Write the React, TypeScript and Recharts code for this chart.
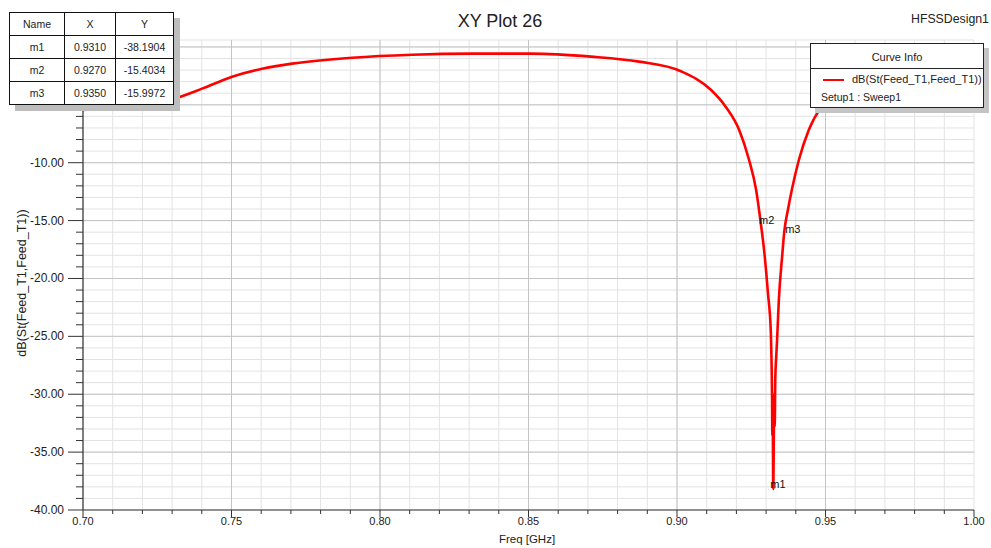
import React from 'react';
import { LineChart, Line, XAxis, YAxis, CartesianGrid, ReferenceLine, ReferenceDot } from 'recharts';

// ---- data ----
const freqGHz = [
  0.700, 0.710, 0.718, 0.725, 0.731, 0.7401, 0.7502, 0.7603, 0.7704, 0.7906, 0.8108, 0.8310, 0.8507, 0.8711,
  0.8872, 0.9013, 0.9114, 0.9165, 0.9209, 0.9242, 0.9266, 0.9283, 0.9293, 0.9306, 0.9316, 0.9318,
  0.9320, 0.9321, 0.9322, 0.9323, 0.9324, 0.9326, 0.9327, 0.9329, 0.9331, 0.9334, 0.9337, 0.9343,
  0.9354, 0.9361, 0.9374, 0.9387, 0.9411, 0.9444, 0.9485, 0.956, 0.966, 0.976, 0.986, 1.000,
];
const s11dB = [
  -5.45, -5.25, -5.08, -4.85, -4.45, -3.6, -2.57, -1.88, -1.44, -0.93, -0.67, -0.58, -0.58, -0.84,
  -1.27, -2.1, -3.7, -5.2, -7.15, -9.7, -12.3, -15.4034, -17.5, -21.2, -24.7, -26.8,
  -30.2, -33.6, -30.5, -34.2, -38.1904, -33.4, -30.0, -32.8, -28.6, -26.8, -25.3, -21.8,
  -18.1, -15.9972, -14.0, -12.3, -9.7, -7.15, -5.2, -3.6, -2.6, -2.0, -1.7, -1.4,
];

const markerNames = ['m1', 'm2', 'm3'];
const markerFreq = [0.9324, 0.9283, 0.9361];
const markerDb = [-38.1904, -15.4034, -15.9972];
const tableX = ['0.9310', '0.9270', '0.9350'];
const tableY = ['-38.1904', '-15.4034', '-15.9972'];

const xTicks = [0.70, 0.71, 0.72, 0.73, 0.74, 0.75, 0.76, 0.77, 0.78, 0.79, 0.80, 0.81, 0.82, 0.83, 0.84, 0.85,
  0.86, 0.87, 0.88, 0.89, 0.90, 0.91, 0.92, 0.93, 0.94, 0.95, 0.96, 0.97, 0.98, 0.99, 1.00];
const xMajor = [0.75, 0.80, 0.85, 0.90, 0.95];
const yTicks = [-40, -39, -38, -37, -36, -35, -34, -33, -32, -31, -30, -29, -28, -27, -26, -25, -24, -23, -22, -21,
  -20, -19, -18, -17, -16, -15, -14, -13, -12, -11, -10, -9, -8, -7, -6, -5, -4, -3, -2, -1, 0];
const yMajor = [-35, -30, -25, -20, -15, -10, -5, 0];
const yLabelled = [-40, -35, -30, -25, -20, -15, -10, -5];

const chartTitle = 'XY Plot 26';
const designName = 'HFSSDesign1';
const yTitle = 'dB(St(Feed_T1,Feed_T1))';
const xTitle = 'Freq [GHz]';
const legendHeader = 'Curve Info';
const legendSeries = 'dB(St(Feed_T1,Feed_T1))';
const legendSetup = 'Setup1 : Sweep1';

const data = freqGHz.map((f, i) => ({ f, db: s11dB[i] }));

const FONT = '"Liberation Sans", Arial, sans-serif';
const RED = '#ff0000';

const isMajorX = (v: number) => Math.abs(v * 20 - Math.round(v * 20)) < 1e-6;
const isMajorY = (v: number) => Math.abs(v / 5 - Math.round(v / 5)) < 1e-6;

const YTick = (props: any) => {
  const { x, y, payload } = props;
  const v = payload.value as number;
  const major = isMajorY(v);
  const labelled = yLabelled.includes(v);
  return (
    <g>
      <line x1={x - (major ? 15 : 7)} x2={x} y1={y} y2={y} stroke="#333" strokeWidth={1} />
      {labelled && (
        <text x={x - 19} y={y} dy={4} textAnchor="end" fontFamily={FONT} fontSize={12} fill="#222">
          {v.toFixed(2)}
        </text>
      )}
    </g>
  );
};

const XTick = (props: any) => {
  const { x, y, payload } = props;
  const v = payload.value as number;
  const major = isMajorX(v);
  return (
    <g>
      <line x1={x} x2={x} y1={y} y2={y + (major ? 7 : 4)} stroke="#333" strokeWidth={1} />
      {major && (
        <text x={x} y={y + 15} textAnchor="middle" fontFamily={FONT} fontSize={11} fill="#222">
          {v.toFixed(2)}
        </text>
      )}
    </g>
  );
};

const labelOffsets: Record<string, [number, number]> = {
  m1: [-3, -1],
  m2: [-2, -1],
  m3: [1, 1],
};

const makeMarkerShape = (name: string) => (props: any) => {
  const { cx, cy } = props;
  const [dx, dy] = labelOffsets[name];
  return (
    <text x={cx + dx} y={cy + dy} fontFamily={FONT} fontSize={11} fill="#111">
      {name}
    </text>
  );
};

const cell: React.CSSProperties = {
  border: '1px solid #111',
  textAlign: 'center',
  padding: 0,
  fontSize: 10.5,
  fontFamily: FONT,
  color: '#222',
  height: 22,
};

export default function App() {
  return (
    <div style={{ position: 'absolute', left: 0, top: 0, width: 991, height: 548, background: '#fff', overflow: 'hidden' }}>
      <LineChart width={991} height={548} data={data} margin={{ top: 40, right: 17, left: 0, bottom: 0 }}>
        <CartesianGrid stroke="#e3e3e3" strokeWidth={1} />
        {xMajor.map((v) => (
          <ReferenceLine key={'vx' + v} x={v} stroke="#c4c4c4" strokeWidth={1} />
        ))}
        {yMajor.map((v) => (
          <ReferenceLine key={'hy' + v} y={v} stroke="#c4c4c4" strokeWidth={1} />
        ))}
        <XAxis
          dataKey="f"
          type="number"
          domain={[0.7, 1.0]}
          ticks={xTicks}
          interval={0}
          allowDataOverflow
          height={38}
          tickSize={0}
          tickMargin={0}
          tickLine={false}
          axisLine={{ stroke: '#333', strokeWidth: 1.2 }}
          tick={<XTick />}
        />
        <YAxis
          type="number"
          domain={[-40, 0.6]}
          ticks={yTicks}
          interval={0}
          allowDataOverflow
          width={83}
          tickSize={0}
          tickMargin={0}
          tickLine={false}
          axisLine={{ stroke: '#333', strokeWidth: 1.2 }}
          tick={<YTick />}
        />
        <Line
          type="monotone"
          dataKey="db"
          stroke={RED}
          strokeWidth={2.6}
          dot={false}
          activeDot={false}
          isAnimationActive={false}
        />
        {markerNames.map((n, i) => (
          <ReferenceDot key={n} x={markerFreq[i]} y={markerDb[i]} r={0} shape={makeMarkerShape(n)} />
        ))}
      </LineChart>

      {/* title */}
      <div style={{ position: 'absolute', left: 500, top: 21, transform: 'translate(-50%,-50%)', fontFamily: FONT, fontSize: 18, color: '#222', whiteSpace: 'nowrap' }}>
        {chartTitle}
      </div>
      <div style={{ position: 'absolute', left: 911, top: 12, fontFamily: FONT, fontSize: 12.3, color: '#222', whiteSpace: 'nowrap' }}>
        {designName}
      </div>

      {/* axis titles */}
      <div style={{ position: 'absolute', left: 22, top: 283, transform: 'translate(-50%,-50%) rotate(-90deg)', fontFamily: FONT, fontSize: 12.5, color: '#222', whiteSpace: 'nowrap' }}>
        {yTitle}
      </div>
      <div style={{ position: 'absolute', left: 527, top: 539, transform: 'translate(-50%,-50%)', fontFamily: FONT, fontSize: 11.5, color: '#222', whiteSpace: 'nowrap' }}>
        {xTitle}
      </div>

      {/* marker table */}
      <table
        style={{
          position: 'absolute', left: 9, top: 12, width: 165, borderCollapse: 'collapse', background: '#fff',
          boxShadow: '6px 6px 0 #bdbdbd', border: '1px solid #111',
        }}
      >
        <tbody>
          <tr>
            <td style={{ ...cell, width: 54 }}>Name</td>
            <td style={{ ...cell, width: 50 }}>X</td>
            <td style={{ ...cell }}>Y</td>
          </tr>
          {markerNames.map((n, i) => (
            <tr key={n}>
              <td style={cell}>{n}</td>
              <td style={cell}>{tableX[i]}</td>
              <td style={cell}>{tableY[i]}</td>
            </tr>
          ))}
        </tbody>
      </table>

      {/* legend */}
      <div
        style={{
          position: 'absolute', left: 810, top: 43, width: 174, height: 65, background: '#fff',
          border: '1px solid #222', boxShadow: '5px 5px 0 #c4c4c4', fontFamily: FONT, color: '#222', boxSizing: 'border-box',
        }}
      >
        <div style={{ height: 24, borderBottom: '1px solid #222', textAlign: 'center', fontSize: 11, lineHeight: '26px' }}>
          {legendHeader}
        </div>
        <div style={{ position: 'absolute', left: 12, top: 35, width: 21, height: 2, background: RED }} />
        <div style={{ position: 'absolute', left: 41, top: 29, fontSize: 11, whiteSpace: 'nowrap' }}>{legendSeries}</div>
        <div style={{ position: 'absolute', left: 10, top: 47, fontSize: 10.5, whiteSpace: 'nowrap' }}>{legendSetup}</div>
      </div>
    </div>
  );
}
